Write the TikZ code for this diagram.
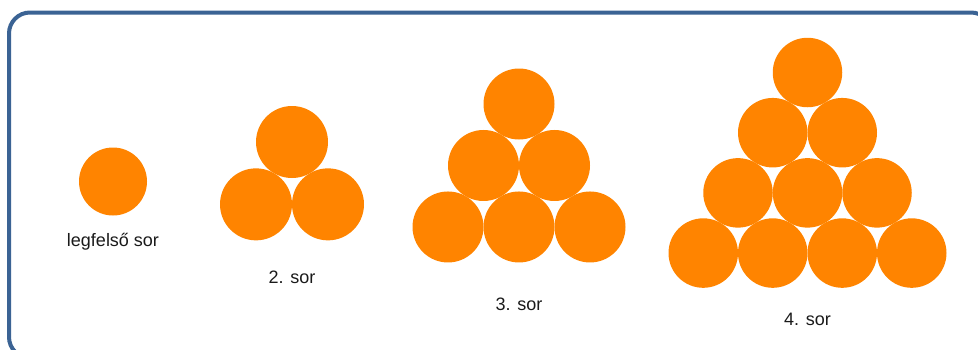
\documentclass[tikz,border=0pt]{standalone}
\usepackage{fontspec}
\setmainfont{Liberation Sans}
\usepackage{xcolor}
\usetikzlibrary{positioning}
\definecolor{ballorange}{HTML}{FF8400}
\definecolor{frameblue}{HTML}{3B6394}
\definecolor{textgrey}{HTML}{1A1A1A}
\tikzset{
  ball/.style={circle, draw=none, fill=ballorange, inner sep=0pt,
               minimum size=#1},
  rowlbl/.style={font=\fontsize{18}{20}\selectfont, text=textgrey,
                 anchor=base, inner sep=0pt},
  frame/.style={draw=frameblue, line width=4pt, rounded corners=21pt},
}

\begin{document}
\begin{tikzpicture}[x=1pt, y=-1pt]
  \useasboundingbox (0,0) rectangle (978,349);
  \draw[frame] (9,12.5) rectangle (992,358);

  % groups: rows / top x / top y / diameter / label baseline / label
  \foreach \n/\cx/\cy/\d/\ly/\txt in {1/113/181.5/68/246.5/legfelső sor,
                                       2/292/142/72/283/2. sor,
                                       3/519/104/71/310.5/3. sor,
                                       4/807.5/72.5/69.5/325.5/4. sor}{
    \foreach \r in {1,...,\n}{
      \foreach \k in {1,...,\r}{
        \node[ball=\d pt] (g\n-\r-\k)
          at ({\cx+(\k-(\r+1)/2)*\d}, {\cy+(\r-1)*\d*0.866}) {};
      }
    }
    \node[rowlbl] (lbl\n) at (\cx,\ly) {\txt};
  }
\end{tikzpicture}
\end{document}
